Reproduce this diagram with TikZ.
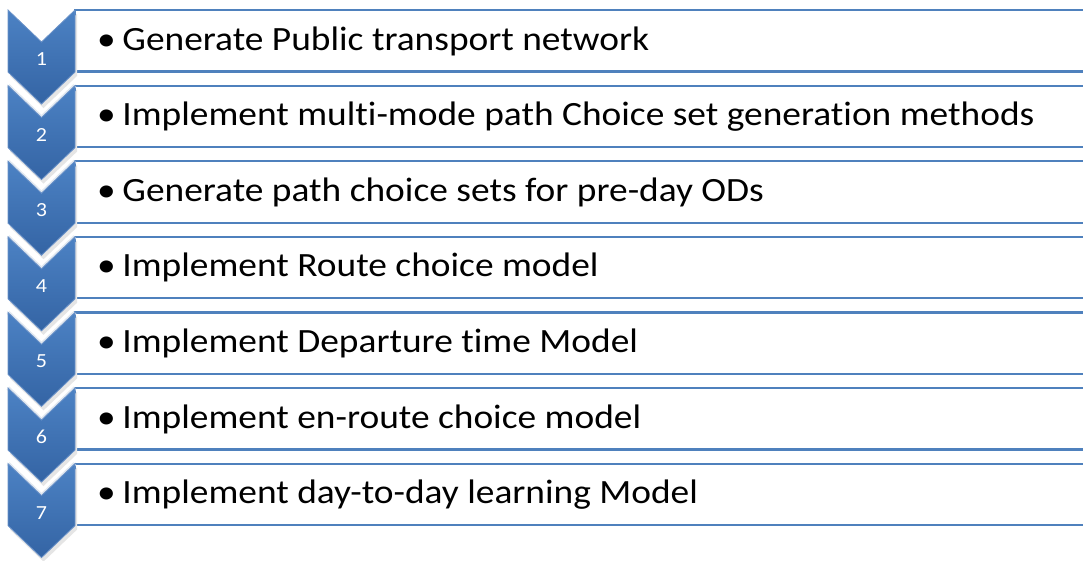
\documentclass[tikz,border=0pt]{standalone}
\usepackage{fontspec}
\setmainfont[Ligatures=NoCommon]{Carlito}
\usetikzlibrary{calc}
\definecolor{chevtop}{RGB}{76,130,196}
\definecolor{chevbot}{RGB}{52,100,164}
\definecolor{chevedge}{RGB}{105,145,200}
\definecolor{boxline}{RGB}{79,129,189}
\definecolor{gapline}{RGB}{225,232,240}
\tikzset{
  chev/.style={top color=chevtop, bottom color=chevbot, draw=chevedge, line width=0.8pt, line join=miter},
  chevgap/.style={draw=gapline, line width=4pt, line join=miter},
  chevnum/.style={text=white, font=\fontsize{20}{24}\selectfont, inner sep=0pt, xscale=1.1, transform shape},
  listline/.style={draw=boxline, line width=2.2pt},
  item/.style={anchor=base west, font=\fontsize{34}{40}\selectfont, inner sep=0pt, text=black, xscale=1.1, transform shape},
}
\begin{document}
\begin{tikzpicture}[x=1pt, y=-1pt]
\useasboundingbox (0,0) rectangle (1083,560);
\fill[white] (0,0) rectangle (1083,560);
% text boxes (open on the right, running off the page)
\foreach \i in {0,...,6}{
  \pgfmathsetmacro{\t}{10+75.6*\i}
  \pgfmathsetmacro{\b}{\t+61.5}
  \fill[white] (75,\t) rectangle (1090,\b);
  \draw[listline] (1090,\t) -- (75,\t) -- (75,\b) -- (1090,\b);
  \coordinate (row\i) at (97,{\t+40});
}
% chevrons, each one drawn over the point of the one above
\foreach \i in {0,...,6}{
  \pgfmathsetmacro{\t}{10+75.6*\i}
  \fill[black!10] ($(10,\t)+(0,4)$) -- ++(0,62) -- ++(33.5,32) -- ++(33.5,-32) -- ++(0,-62) -- ++(-33.5,32) -- cycle;
  \ifnum\i>0
    \draw[chevgap] (8,\t) -- (41.5,{\t+32}) -- (75,\t);
  \fi
  \path[chev] (8,\t) -- (41.5,{\t+32}) -- (75,\t) -- (75,{\t+62}) -- (41.5,{\t+94}) -- (8,{\t+62}) -- cycle;
  \pgfmathtruncatemacro{\n}{\i+1}
  \node[chevnum] (num\i) at (41.5,{\t+49}) {\n};
}
\node[item] (t0) at (row0) {\textbullet\hspace{6pt}Generate Public transport network};
\node[item] (t1) at (row1) {\textbullet\hspace{6pt}Implement multi-mode path Choice set generation methods};
\node[item] (t2) at (row2) {\textbullet\hspace{6pt}Generate path choice sets for pre-day ODs};
\node[item] (t3) at (row3) {\textbullet\hspace{6pt}Implement Route choice model};
\node[item] (t4) at (row4) {\textbullet\hspace{6pt}Implement Departure time Model};
\node[item] (t5) at (row5) {\textbullet\hspace{6pt}Implement en-route choice model};
\node[item] (t6) at (row6) {\textbullet\hspace{6pt}Implement day-to-day learning Model};
\end{tikzpicture}
\end{document}
